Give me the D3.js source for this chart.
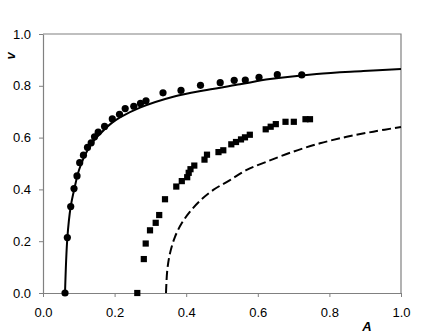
<!DOCTYPE html>
<html>
<head>
<meta charset="utf-8">
<script src="https://cdn.jsdelivr.net/npm/d3@7"></script>
<style>
  body { margin: 0; background: #fff; }
  svg { display: block; font-family: "Liberation Sans", Arial, sans-serif; }
</style>
</head>
<body>
<div id="chart"></div>
<script>
// measured points (circles)
const circleA = [0.0615, 0.068, 0.0774, 0.0866, 0.095, 0.1025, 0.113, 0.1243, 0.1346, 0.1439,
  0.1542, 0.172, 0.1936, 0.2137, 0.2296, 0.2536, 0.2723, 0.2877, 0.3352, 0.3855,
  0.4399, 0.495, 0.5341, 0.5651, 0.6034, 0.6545, 0.7227];
const circleV = [0, 0.214, 0.334, 0.403, 0.452, 0.503, 0.532, 0.562, 0.58, 0.603,
  0.621, 0.643, 0.672, 0.69, 0.712, 0.721, 0.732, 0.742, 0.773, 0.782,
  0.802, 0.812, 0.821, 0.822, 0.833, 0.843, 0.842];

// measured points (squares)
const squareA = [0.2634, 0.2816, 0.2869, 0.2989, 0.3148, 0.3246, 0.3408, 0.3723, 0.3877, 0.4028,
  0.407, 0.412, 0.4226, 0.4511, 0.4581, 0.4902, 0.5036, 0.526, 0.5391, 0.5531,
  0.5642, 0.5777, 0.6221, 0.636, 0.6503, 0.6774, 0.7006, 0.7332, 0.7458];
const squareV = [0, 0.131, 0.191, 0.242, 0.271, 0.301, 0.362, 0.411, 0.432, 0.447,
  0.464, 0.478, 0.492, 0.515, 0.534, 0.544, 0.551, 0.574, 0.583, 0.593,
  0.601, 0.611, 0.632, 0.642, 0.652, 0.661, 0.661, 0.671, 0.671];

// solid curve
const solidA = [0.0615, 0.068, 0.0774, 0.088, 0.1006, 0.1173, 0.1369, 0.1592, 0.1872, 0.2151,
  0.2709, 0.364, 0.4573, 0.5503, 0.6341, 0.7645, 0.8947, 1.0];
const solidV = [0, 0.212, 0.334, 0.405, 0.475, 0.533, 0.579, 0.614, 0.651, 0.678,
  0.716, 0.758, 0.784, 0.806, 0.826, 0.846, 0.857, 0.865];

// dashed curve
const dashA = [0.3436, 0.3472, 0.3547, 0.3687, 0.3874, 0.4106, 0.4385, 0.4757, 0.5223, 0.569,
  0.6249, 0.6992, 0.7737, 0.8483, 0.9226, 1.0];
const dashV = [0, 0.089, 0.153, 0.217, 0.269, 0.314, 0.356, 0.398, 0.436, 0.475,
  0.507, 0.546, 0.578, 0.603, 0.623, 0.641];

const xTicks = [0, 0.2, 0.4, 0.6, 0.8, 1.0];
const yTicks = [0, 0.2, 0.4, 0.6, 0.8, 1.0];

const margin = { top: 34, right: 35, bottom: 43, left: 43 },
  width = 436 - margin.left - margin.right,
  height = 336 - margin.top - margin.bottom;

const svg = d3.select("#chart")
  .append("svg")
  .attr("width", 436)
  .attr("height", 336)
  .append("g")
  .attr("transform", `translate(${margin.left},${margin.top})`);

const x = d3.scaleLinear().domain([0, 1]).range([0, width]);
const y = d3.scaleLinear().domain([0, 1]).range([height, 0]);

// frame top / right
svg.append("path")
  .attr("d", `M0,0H${width}V${height}`)
  .attr("fill", "none")
  .attr("stroke", "#808080")
  .attr("stroke-width", 1.2);

// axes
const gx = svg.append("g")
  .attr("transform", `translate(0,${height})`)
  .call(d3.axisBottom(x).tickValues(xTicks).tickFormat(d3.format(".1f"))
    .tickSizeInner(4).tickSizeOuter(0).tickPadding(11));
const gy = svg.append("g")
  .call(d3.axisLeft(y).tickValues(yTicks).tickFormat(d3.format(".1f"))
    .tickSizeInner(4).tickSizeOuter(0).tickPadding(8));

[gx, gy].forEach(g => {
  g.select(".domain").attr("stroke", "#808080").attr("stroke-width", 1.2);
  g.selectAll(".tick line").attr("stroke", "#808080");
  g.selectAll(".tick text")
    .attr("fill", "#000")
    .attr("font-size", 13)
    .attr("font-family", "'Liberation Sans', Arial, sans-serif");
});

// axis titles
svg.append("text")
  .text("A")
  .attr("x", x(0.905))
  .attr("y", height + 38)
  .attr("text-anchor", "middle")
  .attr("font-weight", "bold")
  .attr("font-style", "italic")
  .attr("font-size", 13);

svg.append("text")
  .text("v")
  .attr("transform", `translate(${15 - margin.left},${56 - margin.top}) rotate(-90)`)
  .attr("text-anchor", "middle")
  .attr("font-weight", "bold")
  .attr("font-style", "italic")
  .attr("font-size", 13);

// lines
const line = d3.line()
  .x(d => x(d[0]))
  .y(d => y(d[1]))
  .curve(d3.curveCatmullRom.alpha(0.5));

svg.append("path")
  .datum(d3.zip(solidA, solidV))
  .attr("d", line)
  .attr("fill", "none")
  .attr("stroke", "#000")
  .attr("stroke-width", 2);

svg.append("path")
  .datum(d3.zip(dashA, dashV))
  .attr("d", line)
  .attr("fill", "none")
  .attr("stroke", "#000")
  .attr("stroke-width", 2)
  .attr("stroke-dasharray", "9,4");

// markers
svg.selectAll("circle.pt")
  .data(d3.zip(circleA, circleV))
  .join("circle")
  .attr("class", "pt")
  .attr("cx", d => x(d[0]))
  .attr("cy", d => y(d[1]))
  .attr("r", 3.6)
  .attr("fill", "#000");

const sq = 6.2;
svg.selectAll("rect.pt")
  .data(d3.zip(squareA, squareV))
  .join("rect")
  .attr("class", "pt")
  .attr("x", d => x(d[0]) - sq / 2)
  .attr("y", d => y(d[1]) - sq / 2)
  .attr("width", sq)
  .attr("height", sq)
  .attr("fill", "#000");
</script>
</body>
</html>
